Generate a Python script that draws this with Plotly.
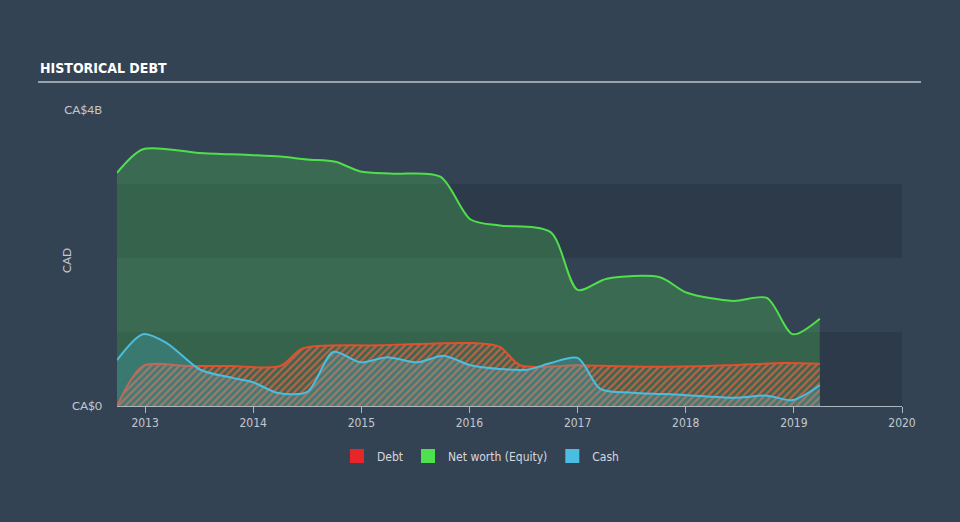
import plotly.graph_objects as go

# ---- data (CAD billions) ----
equity_x = [2012.74, 2012.98, 2013.50, 2014.00, 2014.25, 2014.50, 2014.76, 2014.99, 2015.30,
            2015.73, 2016.01, 2016.28, 2016.75, 2017.00, 2017.27, 2017.76, 2018.01, 2018.44,
            2018.75, 2018.99, 2019.24]
equity_y = [3.15, 3.47, 3.42, 3.39, 3.37, 3.33, 3.30, 3.17, 3.14,
            3.10, 2.52, 2.44, 2.35, 1.57, 1.72, 1.74, 1.53, 1.42,
            1.46, 0.97, 1.18]

debt_x = [2012.74, 2012.98, 2013.40, 2013.80, 2014.25, 2014.46, 2015.15, 2016.03, 2016.28,
          2016.47, 2017.00, 2017.76, 2018.40, 2018.90, 2019.24]
debt_y = [0.0, 0.54, 0.54, 0.54, 0.54, 0.78, 0.82, 0.85, 0.80,
          0.55, 0.55, 0.53, 0.55, 0.58, 0.57]

cash_x = [2012.74, 2012.98, 2013.20, 2013.51, 2013.81, 2014.00, 2014.22, 2014.50, 2014.74,
          2014.99, 2015.24, 2015.52, 2015.76, 2016.01, 2016.28, 2016.53, 2016.75, 2017.00,
          2017.21, 2017.51, 2017.98, 2018.44, 2018.75, 2018.99, 2019.24]
cash_y = [0.62, 0.97, 0.85, 0.49, 0.38, 0.32, 0.18, 0.19, 0.73,
          0.59, 0.66, 0.59, 0.68, 0.55, 0.50, 0.49, 0.58, 0.65,
          0.23, 0.18, 0.15, 0.11, 0.14, 0.08, 0.28]

year_ticks = [2013, 2014, 2015, 2016, 2017, 2018, 2019, 2020]
year_labels = [str(y) for y in year_ticks]
y_ticks = [0, 4]
y_labels = ["CA$0", "CA$4B"]

legend_names = ["Debt", "Net worth (Equity)", "Cash"]
legend_colors = ["#e8262a", "#4ee04e", "#4bbde0"]

BG = "#344354"
BAND = "#2d3a4a"
TXT = "#c3c8cf"
FONT = "DejaVu Sans Condensed, Liberation Sans Narrow, Roboto, sans-serif"

fig = go.Figure()

# equity
fig.add_trace(go.Scatter(
    x=equity_x, y=equity_y, mode="lines", line=dict(color="#4fdf4a", width=2, shape="spline", smoothing=0.8),
    fill="tozeroy", fillcolor="rgba(78,224,78,0.25)", showlegend=False, hoverinfo="skip"))

# debt (hatched)
fig.add_trace(go.Scatter(
    x=debt_x, y=debt_y, mode="lines", line=dict(color="#e2502e", width=2, shape="spline", smoothing=0.8),
    fill="tozeroy",
    fillpattern=dict(shape="/", fgcolor="rgba(226,100,60,0.75)", bgcolor="rgba(90,100,95,0.3)",
                     size=5, solidity=0.45, fillmode="replace"),
    showlegend=False, hoverinfo="skip"))

# cash
fig.add_trace(go.Scatter(
    x=cash_x, y=cash_y, mode="lines", line=dict(color="#4bbde0", width=2, shape="spline", smoothing=0.8),
    fill="tozeroy", fillcolor="rgba(75,189,224,0.25)", showlegend=False, hoverinfo="skip"))

# legend entries
for nm, col in zip(legend_names, legend_colors):
    fig.add_trace(go.Scatter(x=[None], y=[None], mode="markers", name=nm,
                             marker=dict(symbol="square", size=14, color=col), showlegend=True))

shapes = [
    dict(type="rect", xref="paper", yref="y", x0=0, x1=1, y0=0, y1=1, fillcolor=BAND, line_width=0, layer="below"),
    dict(type="rect", xref="paper", yref="y", x0=0, x1=1, y0=2, y1=3, fillcolor=BAND, line_width=0, layer="below"),
    dict(type="line", xref="paper", yref="paper", x0=-0.1006, x1=1.0242, y0=1.0946, y1=1.0946,
         line=dict(color="#9aa3ad", width=2)),
]

annotations = [
    dict(text="<b>HISTORICAL DEBT</b>", xref="paper", yref="paper", x=-0.1006, y=1.142,
         xanchor="left", yanchor="middle", showarrow=False,
         font=dict(family=FONT, size=14, color="#ffffff")),
    dict(text="CAD", xref="paper", yref="paper", x=-0.065, y=0.493, textangle=-90,
         xanchor="center", yanchor="middle", showarrow=False,
         font=dict(family="Lato, sans-serif", size=12, color=TXT)),
]

fig.update_layout(
    width=960, height=522,
    margin=dict(l=117, r=58, t=110, b=116),
    paper_bgcolor=BG, plot_bgcolor="rgba(0,0,0,0)",
    shapes=shapes, annotations=annotations,
    legend=dict(orientation="h", x=0.463, y=-0.169, xanchor="center", yanchor="middle",
                font=dict(family=FONT, size=12, color="#d4d8dd"), bgcolor="rgba(0,0,0,0)",
                itemwidth=30, itemclick=False),
    xaxis=dict(range=[2012.74, 2020], tickvals=year_ticks, ticktext=year_labels,
               showgrid=False, zeroline=False, showline=True, linecolor="#aeb6bf", linewidth=1,
               ticks="outside", ticklen=6, tickcolor="#aeb6bf",
               tickfont=dict(family=FONT, size=12, color=TXT)),
    yaxis=dict(range=[0, 4], tickvals=y_ticks, ticktext=y_labels, showgrid=False, zeroline=False,
               showline=False, ticks="", ticklabelstandoff=14,
               tickfont=dict(family="Lato, sans-serif", size=12, color=TXT)),
)

fig.write_html("out.html", config={"displayModeBar": False},
               post_script="document.body.style.margin='0';document.body.style.background='%s';" % BG)
